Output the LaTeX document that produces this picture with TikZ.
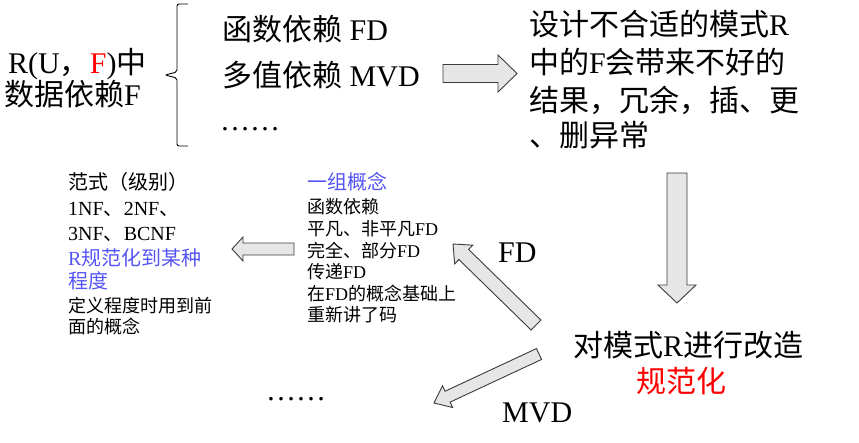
\documentclass[tikz,border=0pt]{standalone}
\usepackage{fontspec}
\setmainfont{Liberation Serif}
\newfontfamily\cjkf{Noto Sans CJK SC}
\usetikzlibrary{calc}
\newcommand\C[1]{{\cjkf #1}}
\definecolor{myblue}{RGB}{85,85,245}
\definecolor{arrowfill}{RGB}{230,230,230}
\definecolor{arrowline}{RGB}{60,60,60}
\newcommand\blockarrow[6]{%
  \path ($(#2)!#5!(#1)$) coordinate (#6hb);
  \draw[blockarrowstyle] ($(#1)!#3!90:(#2)$) -- ($(#6hb)!#3!90:(#2)$) -- ($(#6hb)!#4!90:(#2)$) -- (#2)
     -- ($(#6hb)!#4!-90:(#2)$) -- ($(#6hb)!#3!-90:(#2)$) -- ($(#1)!#3!-90:(#2)$) -- cycle;}
\begin{document}
\begin{tikzpicture}[x=1pt,y=-1pt,
  blockarrowstyle/.style={fill=arrowfill,draw=arrowline,line width=0.9pt,line join=miter},
  big/.style={font=\fontsize{30}{36}\selectfont,inner sep=0pt,anchor=base west},
  mid/.style={font=\fontsize{20}{24}\selectfont,inner sep=0pt,anchor=base west},
  sml/.style={font=\fontsize{18}{22}\selectfont,inner sep=0pt,anchor=base west}]
\useasboundingbox[fill=white] (0,0) rectangle (859,442);
% top left
\node[big] (l1) at (8,73) {R(U\C{，}\textcolor{red}{F})\C{中}};
\node[big] (l2) at (4,105) {\C{数据依赖}F};
% brace
\draw[line width=0.9pt,rounded corners=2pt] (188,4) -- (177,4) -- (177,72) -- (165,75) -- (177,78) -- (177,146) -- (188,146);
\node[big] (f1) at (222,40) {\C{函数依赖} FD};
\node[big] (f2) at (222,86) {\C{多值依赖} MVD};
\node[big] (f3) at (220,130) {……};
% right text
\node[big] (r1) at (529,35) {\C{设计不合适的模式}R};
\node[big] (r2) at (529,73) {\C{中的}F\C{会带来不好的}};
\node[big] (r3) at (529,111) {\C{结果，冗余，插、更}};
\node[big] (r4) at (529,146) {\C{、删异常}};
% bottom right
\node[big] (g1) at (573,356) {\C{对模式}R\C{进行改造}};
\node[big,anchor=base,text=red] (g2) at (681,392) {\C{规范化}};
\node[big] (fd) at (498,262) {FD};
\node[big] (mvd) at (502,422) {MVD};
\node[big] (dots) at (266,400) {……};
% left column
\node[mid] (a1) at (68,189) {\C{范式（级别）}};
\node[mid] (a2) at (68,215) {1NF\C{、}2NF\C{、}};
\node[mid] (a3) at (68,240) {3NF\C{、}BCNF};
\node[mid,text=myblue] (a4) at (68,265) {R\C{规范化到某种}};
\node[mid,text=myblue] (a5) at (68,288) {\C{程度}};
\node[sml] (a6) at (68,312) {\C{定义程度时用到前}};
\node[sml] (a7) at (68,333) {\C{面的概念}};
% middle column
\node[mid,text=myblue] (b1) at (307,189) {\C{一组概念}};
\node[sml] (b2) at (307,213) {\C{函数依赖}};
\node[sml] (b3) at (307,235) {\C{平凡、非平凡}FD};
\node[sml] (b4) at (307,257) {\C{完全、部分}FD};
\node[sml] (b5) at (307,278) {\C{传递}FD};
\node[sml] (b6) at (307,300) {\C{在}FD\C{的概念基础上}};
\node[sml] (b7) at (307,321) {\C{重新讲了码}};
% block arrows
\coordinate (ra1) at (443,73.5); \coordinate (ra2) at (517,73.5);
\blockarrow{ra1}{ra2}{9pt}{18.5pt}{19pt}{ra}
\coordinate (da1) at (677,173); \coordinate (da2) at (677,303);
\blockarrow{da1}{da2}{10pt}{19pt}{18pt}{da}
\coordinate (la1) at (294,249); \coordinate (la2) at (232,249);
\blockarrow{la1}{la2}{6pt}{12pt}{11pt}{la}
\coordinate (fa1) at (536,325); \coordinate (fa2) at (453,244);
\blockarrow{fa1}{fa2}{7pt}{13pt}{15pt}{fa}
\coordinate (ma1) at (539,354); \coordinate (ma2) at (434,403);
\blockarrow{ma1}{ma2}{6pt}{12pt}{15pt}{ma}
\end{tikzpicture}
\end{document}
